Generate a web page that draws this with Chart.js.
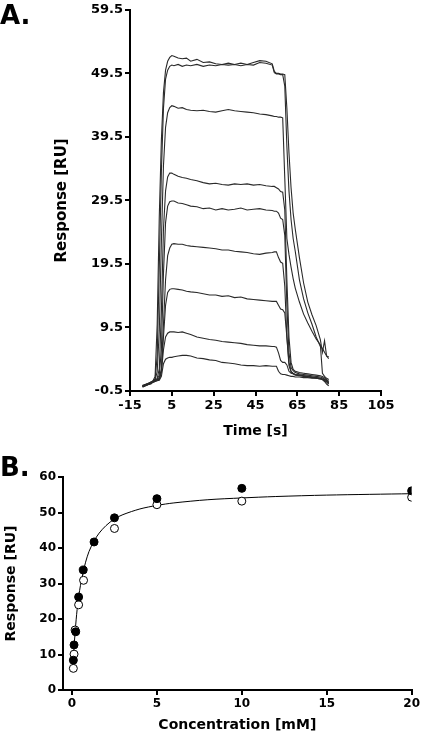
<!DOCTYPE html>
<html>
<head>
<meta charset="utf-8">
<script src="https://cdn.jsdelivr.net/npm/chart.js@4.4.1/dist/chart.umd.min.js"></script>
<style>
  html, body { margin: 0; padding: 0; background: #fff; }
  #wrap { position: relative; width: 422px; height: 740px; overflow: hidden; }
  #chartA { position: absolute; left: 0; top: 0; }
  #chartB { position: absolute; left: 0; top: 445px; }
  .panel { position: absolute; left: 0; font: bold 26px "DejaVu Sans"; line-height: 26px; color: #000; }
</style>
</head>
<body>
<div id="wrap">
  <canvas id="chartA" width="422" height="445"></canvas>
  <canvas id="chartB" width="422" height="295"></canvas>
  <div class="panel" style="top:2px">A.</div>
  <div class="panel" style="top:454px">B.</div>
</div>
<script>
// Panel A: sensorgrams (time in s, response in RU)
const timeS = [-9, -7, -5, -4, -3, -2, -1, 0, 1, 2, 3, 4, 5, 6, 8, 10, 12, 14, 17, 20, 23, 26, 29, 32, 35, 38, 41, 44, 47, 50, 53,
  54, 55, 56, 57, 58, 59, 60, 61, 62, 63, 64, 66, 68, 70, 72, 74, 76, 77, 78, 79, 80];

const run1 = [0.3, 0.6, 0.9, 1.1, 1.8, 10, 27, 39, 46.5, 50.0, 51.4, 52.0, 52.3, 52.2, 51.9, 51.8, 51.9, 51.4, 51.7, 51.2, 51.3, 51.0, 50.9, 51.1, 50.9, 51.1, 50.9, 51.2, 51.5, 51.4, 51.0,
  49.8, 49.5, 49.5, 49.4, 49.4, 49.3, 44, 37, 31.5, 27.5, 25, 20.5, 16.5, 13.5, 11.5, 9.8, 7.6, 5.6, 7.4, 5.0, 4.9];
const run2 = [0.2, 0.5, 0.7, 1.0, 1.4, 5, 19, 34, 44, 48.6, 50.0, 50.6, 50.8, 50.7, 50.9, 50.6, 50.8, 50.7, 50.9, 50.6, 50.8, 50.7, 50.9, 50.8, 50.9, 50.7, 50.9, 50.8, 51.2, 51.1, 50.8,
  49.6, 49.4, 49.4, 49.3, 49.3, 47.5, 38, 31, 26.5, 23.5, 21.5, 17.0, 14.0, 11.8, 10.0, 8.0, 6.5, 6.2, 5.6, 5.0, 4.6];
const run3 = [0.4, 0.6, 0.8, 1.1, 1.3, 2.5, 9, 23, 35, 41, 43.3, 44.1, 44.4, 44.3, 44.0, 44.1, 43.8, 43.7, 43.6, 43.7, 43.5, 43.4, 43.6, 43.8, 43.6, 43.5, 43.4, 43.3, 43.1, 43.0, 42.8,
  42.7, 42.7, 42.6, 42.6, 42.5, 33, 23.5, 21, 19, 17.2, 15.7, 13.5, 11.6, 10.2, 8.9, 7.7, 6.8, 2.3, 1.8, 1.5, 1.3];
const run4 = [0.3, 0.5, 0.9, 1.0, 1.2, 1.5, 3, 12, 25, 31, 33.2, 33.8, 33.8, 33.6, 33.3, 33.1, 33.0, 32.8, 32.6, 32.3, 32.1, 32.2, 32.0, 31.9, 32.1, 32.0, 32.1, 31.9, 32.0, 31.8, 31.7,
  31.7, 31.5, 31.3, 30.9, 30.8, 28, 17, 8, 4, 2.9, 2.6, 2.4, 2.3, 2.2, 2.1, 2.0, 1.9, 1.8, 1.6, 1.3, 0.9];
const run5 = [0.2, 0.4, 0.7, 0.9, 1.1, 1.3, 2, 6, 18, 26, 28.6, 29.3, 29.4, 29.4, 29.1, 29.0, 28.8, 28.6, 28.5, 28.2, 28.3, 28.0, 28.2, 28.0, 28.1, 28.3, 28.0, 28.1, 28.2, 28.0, 27.9,
  27.8, 27.8, 27.5, 26.7, 26.5, 24, 13, 5.5, 3.2, 2.7, 2.4, 2.2, 2.1, 2.0, 1.9, 1.8, 1.7, 1.6, 1.4, 1.1, 0.7];
const run6 = [0.3, 0.5, 0.8, 1.0, 1.2, 1.3, 1.5, 3, 10, 17, 20.8, 22.0, 22.6, 22.7, 22.6, 22.6, 22.4, 22.3, 22.2, 22.1, 22.0, 21.9, 21.7, 21.7, 21.5, 21.4, 21.3, 21.1, 21.0, 21.2, 21.3,
  21.4, 21.4, 20.5, 19.8, 19.6, 16, 8, 3.5, 2.5, 2.2, 2.0, 1.9, 1.8, 1.7, 1.6, 1.5, 1.4, 1.3, 1.1, 0.9, 0.6];
const run7 = [0.1, 0.4, 0.7, 0.9, 1.0, 1.2, 1.4, 2.5, 8, 13, 15.0, 15.5, 15.6, 15.6, 15.5, 15.4, 15.2, 15.1, 15.0, 14.8, 14.6, 14.6, 14.4, 14.5, 14.2, 14.3, 14.0, 13.9, 13.8, 13.7, 13.6,
  13.6, 13.6, 13.0, 12.4, 12.3, 11.8, 8, 4, 2.6, 2.3, 2.1, 2.0, 1.9, 1.8, 1.7, 1.6, 1.5, 1.4, 1.3, 1.2, 1.2];
const run8 = [0.3, 0.6, 0.8, 1.0, 1.1, 1.2, 1.3, 2.5, 6, 8.0, 8.6, 8.8, 8.8, 8.8, 8.7, 8.8, 8.6, 8.4, 8.0, 7.8, 7.6, 7.5, 7.3, 7.2, 7.1, 7.0, 6.8, 6.7, 6.6, 6.6, 6.5,
  6.5, 6.4, 5.5, 4.3, 4.0, 4.0, 3.6, 2.6, 2.3, 2.2, 2.1, 2.0, 1.9, 1.8, 1.7, 1.6, 1.5, 1.4, 1.2, 1.0, 0.8];
const run9 = [0.2, 0.5, 0.6, 0.9, 1.0, 1.1, 1.2, 1.8, 3.8, 4.5, 4.7, 4.8, 4.8, 4.9, 5.0, 5.1, 5.1, 5.0, 4.7, 4.6, 4.4, 4.3, 4.0, 3.9, 3.8, 3.6, 3.5, 3.5, 3.4, 3.5, 3.4,
  3.4, 3.4, 2.6, 2.2, 2.1, 2.1, 2.0, 1.9, 1.8, 1.8, 1.7, 1.7, 1.6, 1.6, 1.5, 1.5, 1.4, 1.3, 1.0, 0.6, 0.3];

const timeTicks = [-15, 5, 25, 45, 65, 85, 105];
const respTicksA = [-0.5, 9.5, 19.5, 29.5, 39.5, 49.5, 59.5];

// Panel B: steady-state binding (concentration in mM, response in RU)
const concFilled = [0.08, 0.12, 0.22, 0.39, 0.66, 1.3, 2.5, 5, 10, 20];
const respFilled = [8.4, 12.7, 16.4, 26.2, 33.8, 41.7, 48.5, 53.9, 56.8, 56.1];
const concOpen = [0.08, 0.12, 0.18, 0.39, 0.68, 2.5, 5, 10, 20];
const respOpen = [6.1, 10.1, 16.9, 24.0, 30.9, 45.5, 52.2, 53.2, 54.3];
const fitConc = [0.08, 0.12, 0.2, 0.3, 0.4, 0.5, 0.65, 0.8, 1.0, 1.3, 1.6, 2.0, 2.5, 3, 4, 5, 6, 8, 10, 12, 15, 20];
const fitResp = [8.4, 12.0, 17.3, 22.6, 26.5, 29.5, 33.0, 36.0, 39.0, 42.0, 44.2, 46.3, 48.2, 49.4, 51.0, 52.0, 52.7, 53.6, 54.1, 54.5, 54.9, 55.3];

const concTicks = [0, 5, 10, 15, 20];
const respTicksB = [0, 10, 20, 30, 40, 50, 60];

const font = 'DejaVu Sans';

function xy(xs, ys) {
  return xs.map((x, i) => ({ x: x, y: ys[i] }));
}

function axis(min, max, ticks, fmt, tickSize, title, titleSize, titlePad, fitFn) {
  return {
    type: 'linear',
    min: min,
    max: max,
    afterBuildTicks: s => { s.ticks = ticks.map(v => ({ value: v })); },
    afterFit: fitFn,
    grid: { drawOnChartArea: false, drawTicks: true, tickLength: 5, color: '#000', lineWidth: 2 },
    border: { display: true, color: '#000', width: 2 },
    ticks: {
      color: '#000', padding: 2, autoSkip: false, maxRotation: 0,
      font: { family: font, weight: 'bold', size: tickSize },
      callback: fmt
    },
    title: {
      display: true, text: title, color: '#000', padding: titlePad,
      font: { family: font, weight: 'bold', size: titleSize }
    }
  };
}

const runs = [run1, run2, run3, run4, run5, run6, run7, run8, run9];

new Chart(document.getElementById('chartA'), {
  type: 'scatter',
  data: {
    datasets: runs.map(r => ({
      data: xy(timeS, r),
      showLine: true,
      borderColor: '#2a2a2a',
      borderWidth: 1.1,
      pointRadius: 0,
      tension: 0
    }))
  },
  options: {
    responsive: false,
    animation: false,
    layout: { padding: { left: 0, right: 41, top: 9, bottom: 0 } },
    plugins: { legend: { display: false }, tooltip: { enabled: false } },
    scales: {
      x: axis(-15, 105, timeTicks, v => String(v), 13, 'Time [s]', 14, { top: 0, bottom: 5 },
        s => { s.height = 54; }),
      y: axis(-0.5, 59.5, respTicksA, v => v.toFixed(1), 13, 'Response [RU]', 15, { top: 53, bottom: 0 },
        s => { s.width = 130; })
    }
  }
});

new Chart(document.getElementById('chartB'), {
  type: 'scatter',
  data: {
    datasets: [
      {
        data: xy(concFilled, respFilled),
        pointRadius: 4, pointBackgroundColor: '#000', pointBorderColor: '#000', pointBorderWidth: 1,
        order: 0
      },
      {
        data: xy(concOpen, respOpen),
        pointRadius: 4, pointBackgroundColor: '#fff', pointBorderColor: '#000', pointBorderWidth: 1,
        order: 1
      },
      {
        data: xy(fitConc, fitResp),
        showLine: true, borderColor: '#000', borderWidth: 1, pointRadius: 0, tension: 0.3,
        order: 2
      }
    ]
  },
  options: {
    responsive: false,
    animation: false,
    layout: { padding: { left: 0, right: 9, top: 32, bottom: 0 } },
    plugins: { legend: { display: false }, tooltip: { enabled: false } },
    scales: {
      x: axis(-0.53, 20, concTicks, v => String(v), 12, 'Concentration [mM]', 14, { top: 0, bottom: 6 },
        s => { s.height = 50; }),
      y: axis(0, 60, respTicksB, v => String(v), 12, 'Response [RU]', 14, { top: 3, bottom: 0 },
        s => { s.width = 63; })
    }
  }
});
</script>
</body>
</html>
